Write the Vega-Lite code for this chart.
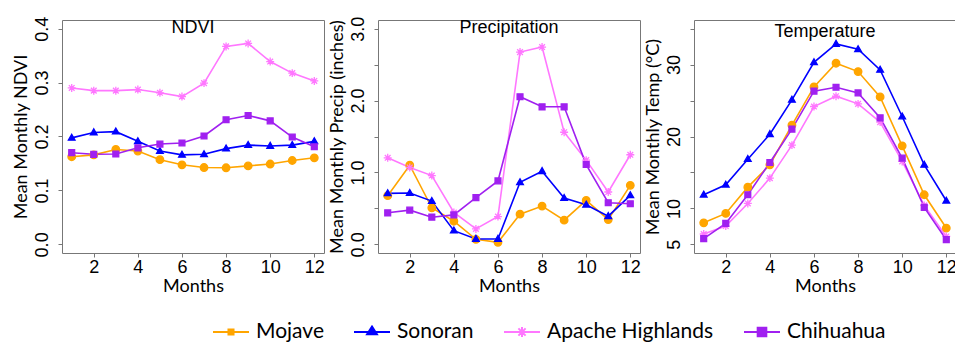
{
  "$schema": "https://vega.github.io/schema/vega-lite/v6.json",
  "padding": {"left": 11, "top": 15, "right": 0, "bottom": 0},
  "background": "white",
  "spacing": 2,
  "data": {"values": [
    {"month": 1, "region": "Mojave", "ndvi": 0.1625, "precip": 0.677, "temp": 8.0},
    {"month": 2, "region": "Mojave", "ndvi": 0.166, "precip": 1.101, "temp": 9.3},
    {"month": 3, "region": "Mojave", "ndvi": 0.176, "precip": 0.509, "temp": 12.96},
    {"month": 4, "region": "Mojave", "ndvi": 0.173, "precip": 0.322, "temp": 16.06},
    {"month": 5, "region": "Mojave", "ndvi": 0.157, "precip": 0.07, "temp": 21.57},
    {"month": 6, "region": "Mojave", "ndvi": 0.1475, "precip": 0.028, "temp": 26.9},
    {"month": 7, "region": "Mojave", "ndvi": 0.1425, "precip": 0.42, "temp": 30.19},
    {"month": 8, "region": "Mojave", "ndvi": 0.142, "precip": 0.532, "temp": 29.03},
    {"month": 9, "region": "Mojave", "ndvi": 0.1455, "precip": 0.336, "temp": 25.5},
    {"month": 10, "region": "Mojave", "ndvi": 0.149, "precip": 0.611, "temp": 18.7},
    {"month": 11, "region": "Mojave", "ndvi": 0.1555, "precip": 0.345, "temp": 11.9},
    {"month": 12, "region": "Mojave", "ndvi": 0.1605, "precip": 0.821, "temp": 7.27},
    {"month": 1, "region": "Sonoran", "ndvi": 0.1975, "precip": 0.709, "temp": 11.9},
    {"month": 2, "region": "Sonoran", "ndvi": 0.2075, "precip": 0.714, "temp": 13.29},
    {"month": 3, "region": "Sonoran", "ndvi": 0.209, "precip": 0.602, "temp": 16.85},
    {"month": 4, "region": "Sonoran", "ndvi": 0.191, "precip": 0.191, "temp": 20.32},
    {"month": 5, "region": "Sonoran", "ndvi": 0.173, "precip": 0.075, "temp": 25.09},
    {"month": 6, "region": "Sonoran", "ndvi": 0.166, "precip": 0.075, "temp": 30.32},
    {"month": 7, "region": "Sonoran", "ndvi": 0.167, "precip": 0.863, "temp": 32.87},
    {"month": 8, "region": "Sonoran", "ndvi": 0.1775, "precip": 1.017, "temp": 32.13},
    {"month": 9, "region": "Sonoran", "ndvi": 0.184, "precip": 0.644, "temp": 29.26},
    {"month": 10, "region": "Sonoran", "ndvi": 0.1825, "precip": 0.551, "temp": 22.78},
    {"month": 11, "region": "Sonoran", "ndvi": 0.184, "precip": 0.392, "temp": 16.06},
    {"month": 12, "region": "Sonoran", "ndvi": 0.191, "precip": 0.681, "temp": 11.06},
    {"month": 1, "region": "Apache Highlands", "ndvi": 0.29, "precip": 1.204, "temp": 6.44},
    {"month": 2, "region": "Apache Highlands", "ndvi": 0.285, "precip": 1.069, "temp": 7.55},
    {"month": 3, "region": "Apache Highlands", "ndvi": 0.285, "precip": 0.957, "temp": 10.69},
    {"month": 4, "region": "Apache Highlands", "ndvi": 0.287, "precip": 0.443, "temp": 14.21},
    {"month": 5, "region": "Apache Highlands", "ndvi": 0.281, "precip": 0.215, "temp": 18.8},
    {"month": 6, "region": "Apache Highlands", "ndvi": 0.274, "precip": 0.387, "temp": 24.17},
    {"month": 7, "region": "Apache Highlands", "ndvi": 0.299, "precip": 2.674, "temp": 25.6},
    {"month": 8, "region": "Apache Highlands", "ndvi": 0.367, "precip": 2.744, "temp": 24.54},
    {"month": 9, "region": "Apache Highlands", "ndvi": 0.3725, "precip": 1.559, "temp": 22.0},
    {"month": 10, "region": "Apache Highlands", "ndvi": 0.339, "precip": 1.171, "temp": 16.53},
    {"month": 11, "region": "Apache Highlands", "ndvi": 0.3175, "precip": 0.728, "temp": 10.42},
    {"month": 12, "region": "Apache Highlands", "ndvi": 0.303, "precip": 1.246, "temp": 6.1},
    {"month": 1, "region": "Chihuahua", "ndvi": 0.17, "precip": 0.439, "temp": 5.79},
    {"month": 2, "region": "Chihuahua", "ndvi": 0.167, "precip": 0.476, "temp": 7.92},
    {"month": 3, "region": "Chihuahua", "ndvi": 0.1675, "precip": 0.378, "temp": 11.9},
    {"month": 4, "region": "Chihuahua", "ndvi": 0.179, "precip": 0.41, "temp": 16.39},
    {"month": 5, "region": "Chihuahua", "ndvi": 0.186, "precip": 0.649, "temp": 21.02},
    {"month": 6, "region": "Chihuahua", "ndvi": 0.188, "precip": 0.882, "temp": 26.3},
    {"month": 7, "region": "Chihuahua", "ndvi": 0.201, "precip": 2.053, "temp": 26.85},
    {"month": 8, "region": "Chihuahua", "ndvi": 0.231, "precip": 1.913, "temp": 26.06},
    {"month": 9, "region": "Chihuahua", "ndvi": 0.239, "precip": 1.913, "temp": 22.6},
    {"month": 10, "region": "Chihuahua", "ndvi": 0.229, "precip": 1.11, "temp": 16.99},
    {"month": 11, "region": "Chihuahua", "ndvi": 0.199, "precip": 0.579, "temp": 10.14},
    {"month": 12, "region": "Chihuahua", "ndvi": 0.181, "precip": 0.565, "temp": 5.65}
  ]},
  "hconcat": [
    {
      "width": 262, "height": 233,
      "title": {"text": "NDVI"},
      "encoding": {
        "x": {"field": "month", "type": "quantitative", "title": "Months",
              "scale": {"domain": [0.56, 12.44], "nice": false, "zero": false},
              "axis": {"values": [2, 4, 6, 8, 10, 12]}},
        "y": {"field": "ndvi", "type": "quantitative", "title": "Mean Monthly NDVI",
              "scale": {"domain": [-0.016, 0.416], "nice": false, "zero": false},
              "axis": {"values": [0, 0.1, 0.2, 0.3, 0.4], "format": ".1f"}}
      },
      "layer": [
        {"mark": {"type": "line", "strokeWidth": 1.6},
         "encoding": {"color": {"field": "region", "type": "nominal",
            "scale": {"domain": ["Mojave", "Sonoran", "Apache Highlands", "Chihuahua"], "range": ["#FFA500", "#0000FF", "#FF77FF", "#A020F0"]},
            "legend": {"orient": "none", "legendX": 150, "legendY": 293, "direction": "horizontal", "columns": 4, "title": null, "padding": 0,
              "symbolSize": 1296, "symbolStrokeWidth": 2, "labelFont": "Lato", "labelFontSize": 21, "labelColor": "black", "labelOffset": 6, "labelLimit": 400, "columnPadding": 26,
              "encode": {"symbols": {"update": {
                "shape": {"signal": "datum.value === 'Mojave' ? 'M-1,0H1M-0.14,-0.14H0.14V0.14H-0.14Z' : datum.value === 'Sonoran' ? 'M-1,0H1M0,-0.3L0.27,0.12H-0.27Z' : datum.value === 'Apache Highlands' ? 'M-1,0H1M-0.28,0H0.28M0,-0.28V0.28M-0.2,-0.2L0.2,0.2M-0.2,0.2L0.2,-0.2' : 'M-1,0H1M-0.24,-0.24H0.24V0.24H-0.24Z'"},
                "fill": {"signal": "datum.value === 'Mojave' ? '#FFA500' : datum.value === 'Sonoran' ? '#0000FF' : datum.value === 'Apache Highlands' ? '#FF77FF' : '#A020F0'"},
                "stroke": {"signal": "datum.value === 'Mojave' ? '#FFA500' : datum.value === 'Sonoran' ? '#0000FF' : datum.value === 'Apache Highlands' ? '#FF77FF' : '#A020F0'"},
                "strokeWidth": {"value": 2},
                "opacity": {"value": 1}
              }}}
            }}}},
        {"mark": {"type": "point", "filled": true, "opacity": 1, "strokeWidth": 1.3, "size": 70},
         "encoding": {
           "fill": {"field": "region", "type": "nominal", "legend": null,
             "scale": {"domain": ["Mojave", "Sonoran", "Apache Highlands", "Chihuahua"], "range": ["#FFA500", "#0000FF", "#FF77FF", "#A020F0"]}},
           "stroke": {"field": "region", "type": "nominal", "legend": null,
             "scale": {"domain": ["Mojave", "Sonoran", "Apache Highlands", "Chihuahua"], "range": ["#FFA500", "#0000FF", "#FF77FF", "#A020F0"]}},
           "shape": {"field": "region", "type": "nominal", "legend": null,
             "scale": {"domain": ["Chihuahua", "Apache Highlands", "Sonoran", "Mojave"], "range": ["M-0.7,-0.7H0.7V0.7H-0.7Z", "M-0.95,0H0.95M0,-0.95V0.95M-0.68,-0.68L0.68,0.68M-0.68,0.68L0.68,-0.68", "M0,-0.85L0.8,0.55H-0.8Z", "M0.9,0A0.9,0.9,0,1,1,-0.9,0A0.9,0.9,0,1,1,0.9,0Z"]}}
         }}
      ]
    },
    {
      "width": 262, "height": 233,
      "title": {"text": "Precipitation"},
      "encoding": {
        "x": {"field": "month", "type": "quantitative", "title": "Months",
              "scale": {"domain": [0.56, 12.44], "nice": false, "zero": false},
              "axis": {"values": [2, 4, 6, 8, 10, 12]}},
        "y": {"field": "precip", "type": "quantitative", "title": "Mean Monthly Precip (inches)",
              "scale": {"domain": [-0.12, 3.12], "nice": false, "zero": false},
              "axis": {"values": [0, 0.5, 1, 1.5, 2, 2.5, 3], "labelExpr": "datum.value % 1 === 0 ? format(datum.value, '.1f') : ''"}}
      },
      "layer": [
        {"mark": {"type": "line", "strokeWidth": 1.6},
         "encoding": {"color": {"field": "region", "type": "nominal",
            "scale": {"domain": ["Mojave", "Sonoran", "Apache Highlands", "Chihuahua"], "range": ["#FFA500", "#0000FF", "#FF77FF", "#A020F0"]}}}},
        {"mark": {"type": "point", "filled": true, "opacity": 1, "strokeWidth": 1.3, "size": 70},
         "encoding": {
           "fill": {"field": "region", "type": "nominal", "legend": null,
             "scale": {"domain": ["Mojave", "Sonoran", "Apache Highlands", "Chihuahua"], "range": ["#FFA500", "#0000FF", "#FF77FF", "#A020F0"]}},
           "stroke": {"field": "region", "type": "nominal", "legend": null,
             "scale": {"domain": ["Mojave", "Sonoran", "Apache Highlands", "Chihuahua"], "range": ["#FFA500", "#0000FF", "#FF77FF", "#A020F0"]}},
           "shape": {"field": "region", "type": "nominal", "legend": null,
             "scale": {"domain": ["Chihuahua", "Apache Highlands", "Sonoran", "Mojave"], "range": ["M-0.7,-0.7H0.7V0.7H-0.7Z", "M-0.95,0H0.95M0,-0.95V0.95M-0.68,-0.68L0.68,0.68M-0.68,0.68L0.68,-0.68", "M0,-0.85L0.8,0.55H-0.8Z", "M0.9,0A0.9,0.9,0,1,1,-0.9,0A0.9,0.9,0,1,1,0.9,0Z"]}}
         }}
      ]
    },
    {
      "width": 262, "height": 233,
      "title": {"text": "Temperature"},
      "encoding": {
        "x": {"field": "month", "type": "quantitative", "title": "Months",
              "scale": {"domain": [0.56, 12.44], "nice": false, "zero": false},
              "axis": {"values": [2, 4, 6, 8, 10, 12]}},
        "y": {"field": "temp", "type": "quantitative", "title": "Mean Monthly Temp (°C)",
              "scale": {"domain": [3.8, 36.2], "nice": false, "zero": false},
              "axis": {"values": [5, 10, 15, 20, 25, 30, 35], "labelExpr": "(datum.value === 5 || datum.value === 10 || datum.value === 20 || datum.value === 30) ? datum.label : ''"}}
      },
      "layer": [
        {"mark": {"type": "line", "strokeWidth": 1.6},
         "encoding": {"color": {"field": "region", "type": "nominal",
            "scale": {"domain": ["Mojave", "Sonoran", "Apache Highlands", "Chihuahua"], "range": ["#FFA500", "#0000FF", "#FF77FF", "#A020F0"]}}}},
        {"mark": {"type": "point", "filled": true, "opacity": 1, "strokeWidth": 1.3, "size": 70},
         "encoding": {
           "fill": {"field": "region", "type": "nominal", "legend": null,
             "scale": {"domain": ["Mojave", "Sonoran", "Apache Highlands", "Chihuahua"], "range": ["#FFA500", "#0000FF", "#FF77FF", "#A020F0"]}},
           "stroke": {"field": "region", "type": "nominal", "legend": null,
             "scale": {"domain": ["Mojave", "Sonoran", "Apache Highlands", "Chihuahua"], "range": ["#FFA500", "#0000FF", "#FF77FF", "#A020F0"]}},
           "shape": {"field": "region", "type": "nominal", "legend": null,
             "scale": {"domain": ["Chihuahua", "Apache Highlands", "Sonoran", "Mojave"], "range": ["M-0.7,-0.7H0.7V0.7H-0.7Z", "M-0.95,0H0.95M0,-0.95V0.95M-0.68,-0.68L0.68,0.68M-0.68,0.68L0.68,-0.68", "M0,-0.85L0.8,0.55H-0.8Z", "M0.9,0A0.9,0.9,0,1,1,-0.9,0A0.9,0.9,0,1,1,0.9,0Z"]}}
         }}
      ]
    }
  ],
  "config": {
    "view": {"stroke": "#777", "strokeWidth": 1},
    "title": {"font": "Liberation Sans", "fontSize": 18, "fontWeight": "normal", "color": "black", "offset": -21, "baseline": "alphabetic", "anchor": "middle", "frame": "group"},
    "axis": {"grid": false, "domain": false, "labelFont": "Liberation Sans", "labelFontSize": 18, "labelColor": "black",
             "tickColor": "#777", "tickSize": 4, "titleFont": "Lato", "titleFontSize": 18, "titleFontWeight": "normal", "titleColor": "black", "labelFlush": false, "labelOverlap": false},
    "axisY": {"labelAngle": -90, "labelAlign": "center", "labelBaseline": "bottom", "labelPadding": 7, "titlePadding": 3},
    "axisX": {"labelPadding": 1, "titlePadding": 1}
  }
}
